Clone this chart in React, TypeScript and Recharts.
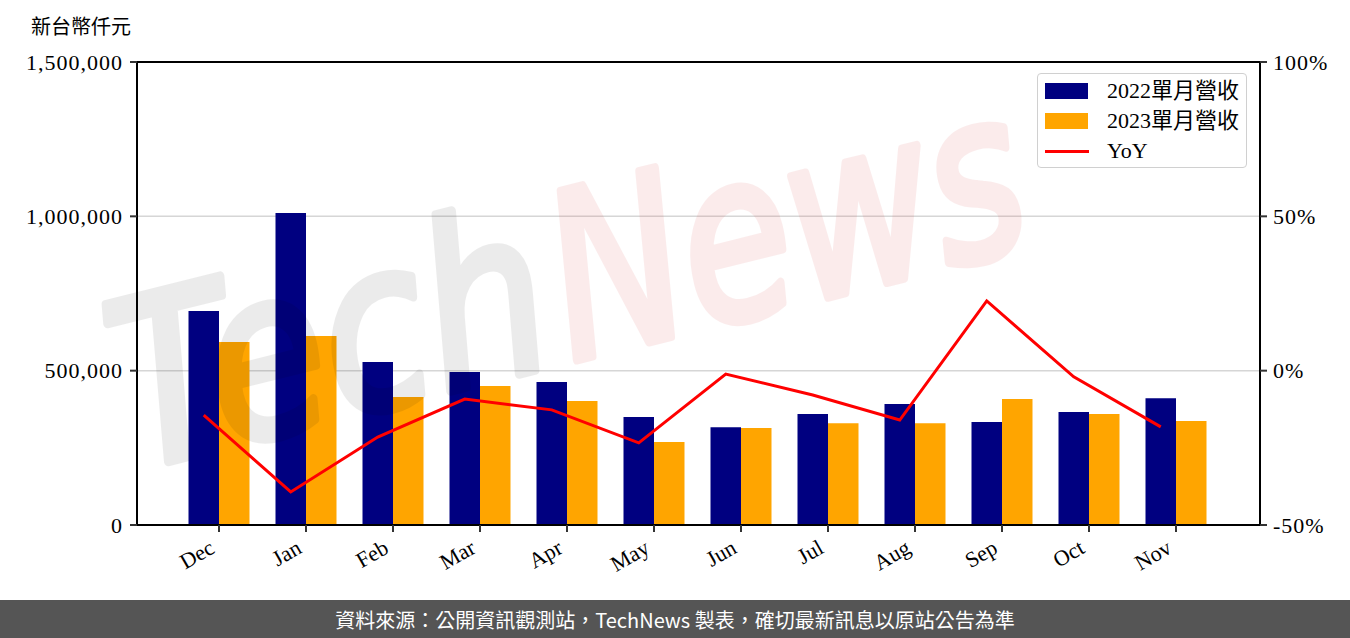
import React from 'react';
import {
  ComposedChart, Bar, Line, XAxis, YAxis, CartesianGrid,
} from 'recharts';

const months = ['Dec', 'Jan', 'Feb', 'Mar', 'Apr', 'May', 'Jun', 'Jul', 'Aug', 'Sep', 'Oct', 'Nov'];
const rev2022 = [693000, 1011000, 528000, 496000, 463000, 350000, 317000, 360000, 392000, 334000, 366000, 411000];
const rev2023 = [593000, 612000, 415000, 450000, 402000, 269000, 314000, 330000, 330000, 408000, 360000, 337000];
const yoy = [-14.4, -39.3, -21.5, -9.2, -12.7, -23.4, -1.1, -7.9, -16.0, 22.6, -2.0, -18.2];
const leftTicks = [0, 500000, 1000000, 1500000];
const rightTicks = [-50, 0, 50, 100];
const seriesNames = ['2022單月營收', '2023單月營收', 'YoY'];
const unitLabel = '新台幣仟元';
const footerText = '資料來源：公開資訊觀測站，TechNews 製表，確切最新訊息以原站公告為準';
const watermark = ['Tech', 'News'];

const data = months.map((m, i) => ({ month: m, a: rev2022[i], b: rev2023[i], yoy: yoy[i] }));

const SERIF = '"Liberation Serif", "Noto Sans CJK TC", serif';
const COLORS = ['#000080', '#FFA500', '#FF0000'];

const MonthTick = (props: any) => {
  const { x, y, payload } = props;
  const ax = x - 3;
  const ay = y + 18;
  return (
    <text x={ax} y={ay} textAnchor="end" transform={`rotate(-30, ${ax}, ${ay})`}
      fontFamily={SERIF} fontSize={22} fill="#000">{payload.value}</text>
  );
};

const GridLine = (props: any) => {
  const { x1, x2, y1, y2, offset } = props;
  const isTop = offset && Math.abs(y1 - offset.top) < 1;
  return (
    <line x1={x1} x2={x2} y1={y1} y2={y2}
      stroke={isTop ? '#000' : '#d6d6d6'} strokeWidth={isTop ? 2 : 1.5} />
  );
};

const fmtNum = (v: number) => v.toLocaleString('en-US');

const LegendBox = () => (
  <div style={{
    position: 'absolute', left: 1037, top: 73,
    width: 210, height: 95, boxSizing: 'border-box', border: '1.5px solid #d0d0d0', borderRadius: 4,
    background: 'rgba(255,255,255,0.85)', fontFamily: SERIF, fontSize: 22, color: '#000', paddingTop: 2,
  }}>
    {seriesNames.map((n, i) => (
      <div key={n} style={{ display: 'flex', alignItems: 'center', height: 30 }}>
        <div style={{ width: 44, marginLeft: 7, marginRight: 18, display: 'flex', alignItems: 'center' }}>
          {i < 2 ? (
            <div style={{ width: 43, height: 16, background: COLORS[i] }} />
          ) : (
            <div style={{ width: 45, height: 3, background: COLORS[2] }} />
          )}
        </div>
        <span style={{ lineHeight: '22px' }}>{n}</span>
      </div>
    ))}
  </div>
);

export default function App() {
  return (
    <div style={{ position: 'absolute', left: 0, top: 0, width: 1350, height: 638, background: '#fff', overflow: 'hidden' }}>
      <div style={{ position: 'absolute', left: 31, top: 13, fontFamily: SERIF, fontSize: 20, color: '#000', lineHeight: '28px' }}>
        {unitLabel}
      </div>
      <ComposedChart width={1350} height={600} data={data}
        margin={{ top: 62, right: 0, bottom: 0, left: 0 }} barGap={0}>
        <CartesianGrid vertical={false} horizontal={(p: any) => <GridLine {...p} />}
          yAxisId="left" xAxisId="bars" />
        <XAxis xAxisId="bars" dataKey="month" height={75} padding={{ left: 38.5, right: 40.5 }}
          axisLine={{ stroke: '#000', strokeWidth: 2 }} tickLine={{ stroke: '#333', strokeWidth: 2 }}
          tickSize={7} tickMargin={2} tick={<MonthTick />} interval={0} />
        <XAxis xAxisId="line" dataKey="month" hide padding={{ left: 23.25, right: 55.75 }} />
        <YAxis yAxisId="left" orientation="left" width={137} domain={[0, 1500000]} ticks={leftTicks}
          tickFormatter={fmtNum} interval={0} allowDataOverflow
          axisLine={{ stroke: '#000', strokeWidth: 2 }} tickLine={{ stroke: '#333', strokeWidth: 2 }}
          tickSize={7} tickMargin={7}
          tick={{ fontFamily: SERIF, fontSize: 22, fill: '#000', letterSpacing: 1 }} />
        <YAxis yAxisId="right" orientation="right" width={90} domain={[-50, 100]} ticks={rightTicks}
          tickFormatter={(v: number) => `${v}%`} interval={0} allowDataOverflow
          axisLine={{ stroke: '#000', strokeWidth: 2 }} tickLine={{ stroke: '#333', strokeWidth: 2 }}
          tickSize={7} tickMargin={6}
          tick={{ fontFamily: SERIF, fontSize: 22, fill: '#000', letterSpacing: 1 }} />
        <Bar xAxisId="bars" yAxisId="left" dataKey="a" name={seriesNames[0]} fill={COLORS[0]}
          barSize={30.5} isAnimationActive={false} />
        <Bar xAxisId="bars" yAxisId="left" dataKey="b" name={seriesNames[1]} fill={COLORS[1]}
          barSize={30.5} isAnimationActive={false} />
        <Line xAxisId="line" yAxisId="right" dataKey="yoy" name={seriesNames[2]} stroke={COLORS[2]}
          strokeWidth={3} dot={false} activeDot={false} type="linear" isAnimationActive={false} />
      </ComposedChart>
      <svg width={1350} height={600} style={{ position: 'absolute', left: 0, top: 0, pointerEvents: 'none' }}>
        <g transform="rotate(-14, 135, 470)">
          <text x={135} y={470} fontFamily='"DejaVu Sans", sans-serif' fontStyle="italic"
            fontSize={230} textLength={440} lengthAdjust="spacingAndGlyphs"
            fill="#000" stroke="#000" strokeWidth={9} strokeLinejoin="round" opacity={0.075}>
            {watermark[0]}
          </text>
          <text x={585} y={470} fontFamily='"DejaVu Sans", sans-serif' fontStyle="italic"
            fontSize={230} textLength={480} lengthAdjust="spacingAndGlyphs"
            fill="#d73232" stroke="#d73232" strokeWidth={9} strokeLinejoin="round" opacity={0.09}>
            {watermark[1]}
          </text>
        </g>
      </svg>
      <LegendBox />
      <div style={{
        position: 'absolute', left: 0, top: 600, width: 1350, height: 38, background: '#555555',
        color: '#fff', fontFamily: '"Noto Sans CJK TC", "Noto Sans", sans-serif', fontSize: 20,
        display: 'flex', alignItems: 'center', justifyContent: 'center',
      }}>
        {footerText}
      </div>
    </div>
  );
}
